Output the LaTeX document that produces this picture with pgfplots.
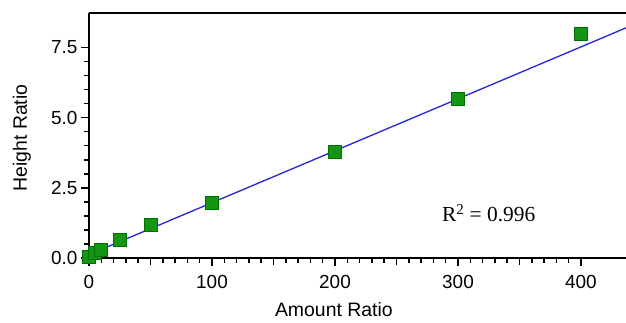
\documentclass[border=0pt]{standalone}
\usepackage{pgfplots}
\pgfplotsset{compat=1.18}
\usepackage{fontspec}
\setmainfont{Liberation Sans}
\newfontfamily\timesfont{Liberation Serif}
\definecolor{mkfill}{RGB}{20,150,20}
\definecolor{mkedge}{RGB}{0,110,0}
\definecolor{fitblue}{RGB}{35,35,225}
\begin{document}
\begin{tikzpicture}
\begin{axis}[
  scale only axis,
  width=537bp, height=245bp,
  xmin=0, xmax=436.6,
  ymin=0, ymax=8.73,
  axis x line*=bottom,
  axis y line*=left,
  axis line style={line width=1.6bp},
  xtick align=outside,
  ytick align=outside,
  tickwidth=8bp,
  subtickwidth=5bp,
  xtick={0,100,200,300,400},
  ytick={0,2.5,5,7.5},
  minor x tick num=9,
  minor y tick num=4,
  every tick/.style={black, line width=1.5bp},
  extra x ticks={50,150,250,350},
  extra x tick labels={},
  extra x tick style={tickwidth=7bp},
  yticklabel style={/pgf/number format/fixed, /pgf/number format/fixed zerofill, /pgf/number format/precision=1},
  /pgf/number format/assume math mode=true,
  tick label style={font=\fontsize{19}{22}\selectfont},
  xticklabel style={yshift=-6bp},
  label style={font=\fontsize{19.5}{23}\selectfont},
  xlabel={Amount Ratio},
  ylabel={Height Ratio},
  xlabel style={at={(axis description cs:0.456,0)}, anchor=center, yshift=-52bp},
  ylabel style={at={(axis description cs:-0.125,0.49)}, anchor=center},
  clip=false,
]
\addplot[fitblue, line width=1.3bp] coordinates {(0,0.12) (436.6,8.2)};
\addplot[only marks, mark=square*, mark size=6.5bp, mark options={fill=mkfill, draw=mkedge, line width=0.6bp}] coordinates {
 (0,0.05) (5,0.18) (10,0.3) (25,0.65) (50,1.17) (100,1.98) (200,3.77) (300,5.68) (400,7.98)
};
\draw[line width=2.2bp] (rel axis cs:0,1) -- (rel axis cs:1,1);
\node[font=\timesfont\fontsize{21.5}{25}\selectfont] at (axis cs:325,1.6) {R\textsuperscript{2} = 0.996};
\coordinate (bl) at (rel axis cs:0,0);
\coordinate (tr) at (rel axis cs:1,1);
\end{axis}
\pgfresetboundingbox
\path ([shift={(-89bp,-65bp)}]bl) rectangle ([shift={(0bp,13bp)}]tr);
\end{tikzpicture}
\end{document}
